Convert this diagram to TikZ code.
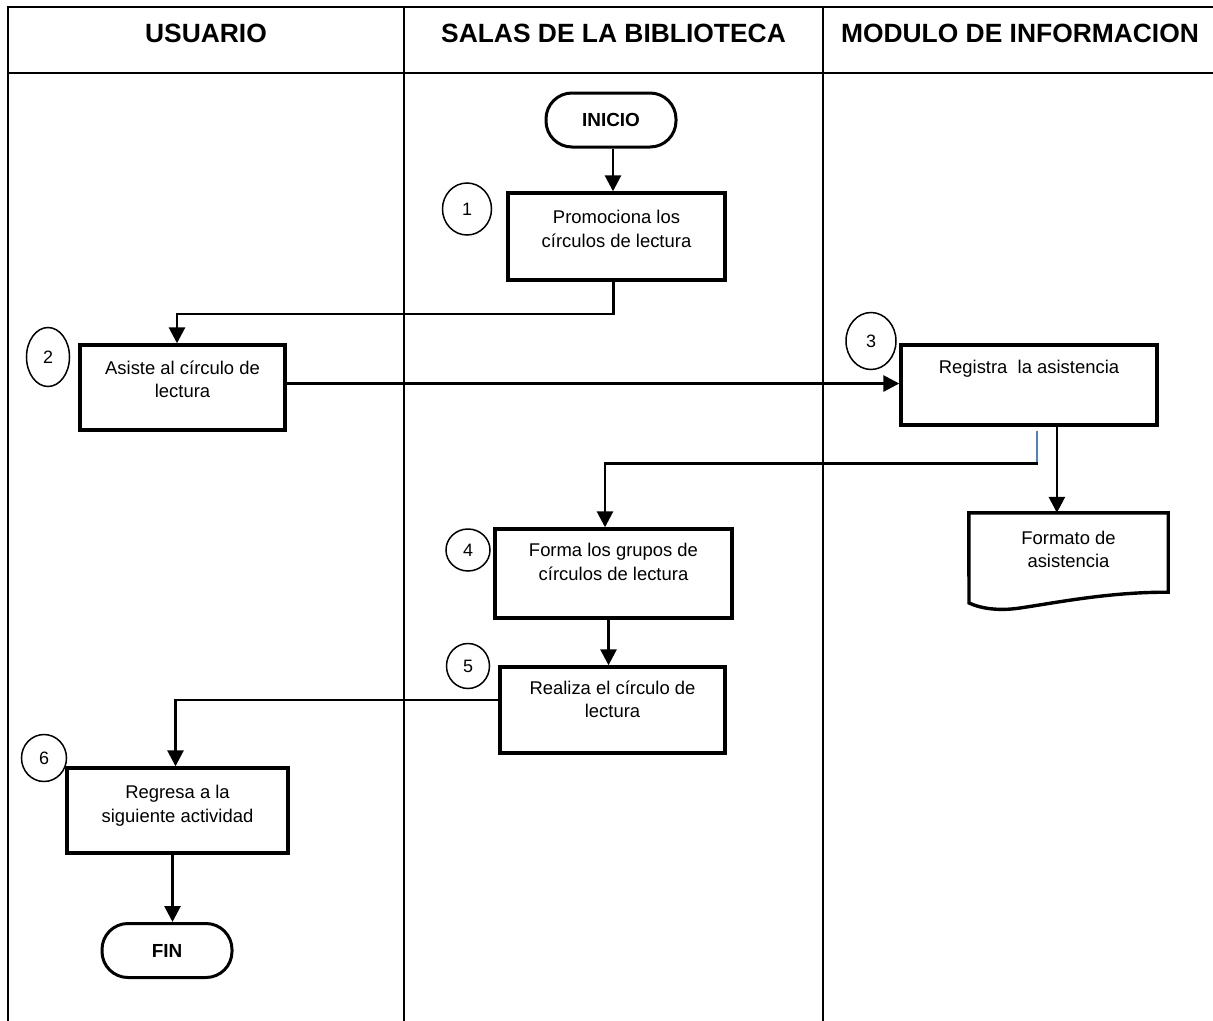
\documentclass[tikz,border=0pt]{standalone}
\usepackage{fontspec}
\setmainfont{Liberation Sans}
\usetikzlibrary{arrows.meta,shapes.geometric,calc}
\definecolor{bluelink}{HTML}{4F81BD}
\tikzset{
  grid/.style={line width=2.2bp,line cap=rect},
  hdr/.style={font=\fontsize{26.5}{30}\bfseries\selectfont,inner sep=0pt},
  box/.style={draw,line width=3.4bp,inner sep=0pt,minimum width=#1},
  term/.style={draw,line width=3bp,rounded corners=26bp,minimum width=130bp,minimum height=54bp,inner sep=0pt,font=\fontsize{19}{21}\bfseries\selectfont},
  num/.style={draw,ellipse,line width=1.5bp,inner sep=0pt,font=\fontsize{18}{20}\selectfont},
  txt/.style={anchor=north,align=center,inner sep=0pt,font=\fontsize{18.5}{23.5}\selectfont},
  arr/.style={line width=2.8bp,-{Triangle[length=16bp,width=16bp]}},
  conn/.style={line width=2.8bp}
}
\begin{document}
\begin{tikzpicture}[x=1bp,y=-1bp]
\useasboundingbox (0,0) rectangle (1213,1021);
% table
\draw[grid] (8,7) -- (1213,7);
\draw[grid] (8,73) -- (1213,73);
\draw[grid] (8,7) -- (8,1021);
\draw[grid] (404,7) -- (404,1021);
\draw[grid] (823,7) -- (823,1021);
\node[hdr] (h1) at (206,33) {USUARIO};
\node[hdr] (h2) at (613.5,33) {SALAS DE LA BIBLIOTECA};
\node[hdr] (h3) at (1020,33) {MODULO DE INFORMACION};
% terminals
\node[term] (ini) at (611,120) {INICIO};
\node[term] (fin) at (167,950.5) {FIN};
% boxes
\node[box=217bp,minimum height=87bp] (b1) at (616.5,236.5) {};
\node[box=205bp,minimum height=85bp] (b2) at (182.5,387.5) {};
\node[box=256bp,minimum height=80bp] (b3) at (1029,385) {};
\node[box=237bp,minimum height=89bp] (b4) at (613.5,573.5) {};
\node[box=225bp,minimum height=86bp] (b5) at (612.5,710) {};
\node[box=221bp,minimum height=85bp] (b6) at (177.5,810.5) {};
\node[txt] (t1) at ([yshift=-19]b1.north) {Promociona los\\círculos de lectura};
\node[txt] (t2) at ([yshift=-17]b2.north) {Asiste al círculo de\\lectura};
\node[txt] (t3) at ([yshift=-17]b3.north) {Registra\ \ la asistencia};
\node[txt] (t4) at ([yshift=-16]b4.north) {Forma los grupos de\\círculos de lectura};
\node[txt] (t5) at ([yshift=-15]b5.north) {Realiza el círculo de\\lectura};
\node[txt] (t6) at ([yshift=-19]b6.north) {Regresa a la\\siguiente actividad};
% document
\node[minimum width=199bp,minimum height=79bp,inner sep=0pt] (d) at (1068.5,552.5) {};
\draw[line width=3.4bp,line join=miter]
  (969,603) -- (d.north west) -- (d.north east) -- (d.south east)
  .. controls (1110,592) and (1060,602) .. (1020,608)
  .. controls (1000,611) and (982,609) .. (969,603) -- cycle;
\node[txt] (td) at ([yshift=-18]d.north) {Formato de\\asistencia};
% numbers
\node[num,minimum width=49bp,minimum height=52bp] (c1) at (467,209) {1};
\node[num,minimum width=43bp,minimum height=59bp] (c2) at (48,357) {2};
\node[num,minimum width=50bp,minimum height=57bp] (c3) at (871,341) {3};
\node[num,minimum width=44bp,minimum height=42bp] (c4) at (468,550) {4};
\node[num,minimum width=43bp,minimum height=45bp] (c5) at (468,666) {5};
\node[num,minimum width=45bp,minimum height=47bp] (c6) at (44,758) {6};
% connectors
\draw[arr] ([xshift=2]ini.south) -- ([xshift=2]ini.south |- b1.north);
\draw[arr] ([xshift=-3]b1.south) |- (177,314) -- (177,314 |- b2.north);
\draw[arr] ([yshift=4]b2.east) -- ([yshift=4]b2.east -| b3.west);
\draw[arr] ([xshift=28]b3.south) -- ([xshift=28]b3.south |- d.north);
\coordinate (bl) at ([xshift=8,yshift=-37]b3.south);
\draw[bluelink,line width=2.4bp] ([xshift=8,yshift=-4]b3.south) -- (bl);
\draw[conn] ([xshift=1]bl) -- (bl -| 605,0);
\draw[arr] (605,462) -- (605,462 |- b4.north);
\draw[arr] ([xshift=-5]b4.south) -- ([xshift=-5]b4.south |- b5.north);
\draw[arr] ([yshift=10]b5.west) -| ([xshift=-2]b6.north);
\draw[arr] ([xshift=-5]b6.south) -- ([xshift=-5]b6.south |- fin.north);
\end{tikzpicture}
\end{document}
